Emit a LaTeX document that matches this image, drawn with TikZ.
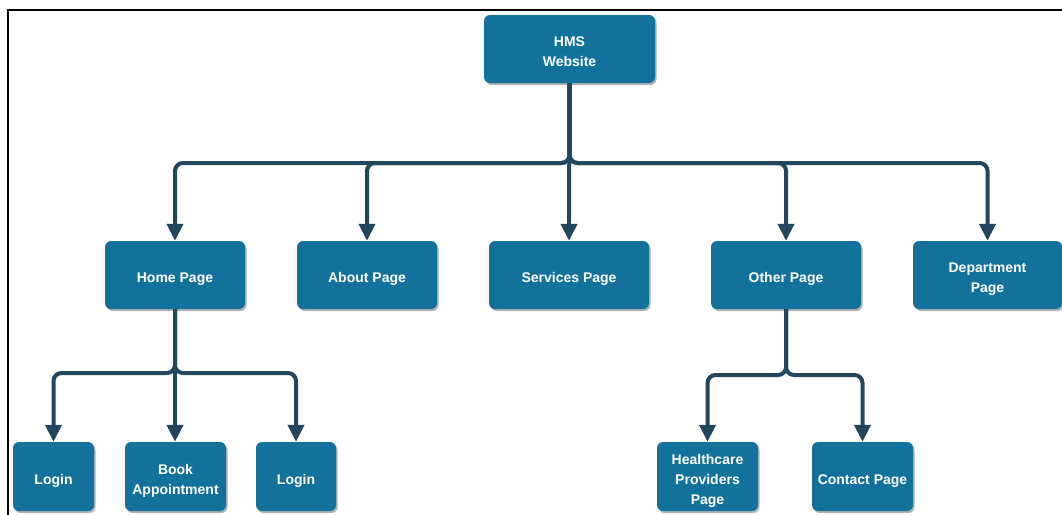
\documentclass[tikz,border=0pt]{standalone}
\usepackage{fontspec}
\setmainfont{Liberation Sans}
\usetikzlibrary{arrows.meta,shadows,calc}
\definecolor{boxblue}{HTML}{13729C}
\definecolor{linenavy}{HTML}{23465F}
\newcommand{\btext}[1]{\raisebox{-3.5pt}[\height][\depth]{\begin{tabular}{@{}c@{}}#1\end{tabular}}}
\tikzset{
  pagebox/.style={fill=boxblue, draw=none, rounded corners=6pt, text=white,
    font=\bfseries\fontsize{14pt}{20pt}\selectfont, inner sep=0pt,
    drop shadow={shadow xshift=1.5pt, shadow yshift=-2pt, opacity=0.3, fill=black}},
  conn/.style={draw=linenavy, line width=4pt, rounded corners=8pt,
    -{Triangle[width=16pt,length=17pt]}},
}
\begin{document}
\begin{tikzpicture}[x=1pt,y=-1pt]
\useasboundingbox (0,0) rectangle (1062,514);
\clip (0,0) rectangle (1062,514);
\fill[white] (0,0) rectangle (1062,514);
\draw[line width=2pt, black] (8,10) rectangle (1080,530);

\node[pagebox, minimum width=171pt, minimum height=68pt] (hms) at (569.5,49) {\btext{HMS\\Website}};

\node[pagebox, minimum width=140pt, minimum height=68pt] (home) at (175,275) {\btext{Home Page}};
\node[pagebox, minimum width=140pt, minimum height=68pt] (about) at (367,275) {\btext{About Page}};
\node[pagebox, minimum width=160pt, minimum height=68pt] (services) at (569,275) {\btext{Services Page}};
\node[pagebox, minimum width=150pt, minimum height=68pt] (other) at (786,275) {\btext{Other Page}};
\node[pagebox, minimum width=149pt, minimum height=68pt] (dept) at (987.5,275) {\btext{Department\\Page}};

\node[pagebox, minimum width=81pt, minimum height=69pt] (login1) at (53.5,476.5) {\btext{Login}};
\node[pagebox, minimum width=101pt, minimum height=69pt] (book) at (175.5,476.5) {\btext{Book\\Appointment}};
\node[pagebox, minimum width=80pt, minimum height=69pt] (login2) at (296,476.5) {\btext{Login}};
\node[pagebox, minimum width=101pt, minimum height=69pt] (health) at (707.5,476.5) {\btext{Healthcare\\Providers\\Page}};
\node[pagebox, minimum width=101pt, minimum height=69pt] (contact) at (862.5,476.5) {\btext{Contact Page}};

\coordinate (bus1) at (0,163);
\coordinate (bus2) at (0,373);
\coordinate (bus3) at (0,375);

\foreach \t in {home,about,other,dept}
  \draw[conn] (hms.south) -- (hms.south |- bus1) -| (\t.north);
\draw[conn] (hms.south) -- (services.north);

\foreach \t in {login1,login2}
  \draw[conn] (home.south) -- (home.south |- bus2) -| (\t.north);
\draw[conn] (home.south) -- (home.south |- book.north);

\foreach \t in {health,contact}
  \draw[conn] (other.south) -- (other.south |- bus3) -| (\t.north);
\end{tikzpicture}
\end{document}
